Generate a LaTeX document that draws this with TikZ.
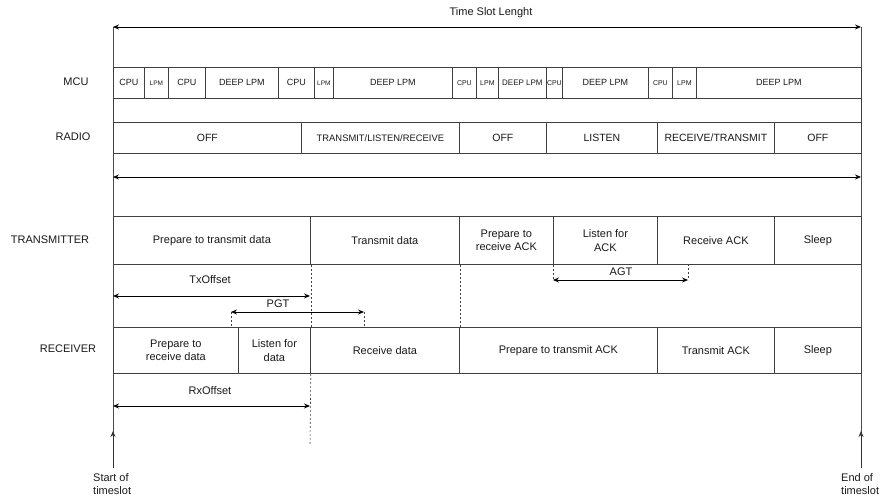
\documentclass[tikz,border=0pt]{standalone}
\usepackage{fontspec}
\setmainfont{Liberation Sans}
\usetikzlibrary{arrows.meta}
\newcommand{\fsz}[2]{\fontsize{#1}{#2}\selectfont}
\newcommand{\mkcell}[7]{\node[#1, anchor=north west, minimum width={#4-#3}, minimum height={#6-#5}] (#2) at (#3,#5) {#7};}
\tikzset{
  cell/.style={draw=black!75, line width=0.8pt, inner sep=0pt, align=center, font=\fsz{11}{13.5}, text=black!90},
  mcub/.style={cell, font=\fsz{9}{11}},
  mcum/.style={cell, font=\fsz{8}{10}},
  mcus/.style={cell, font=\fsz{7}{9}},
  mcut/.style={cell, font=\fsz{6.5}{8}},
  radio/.style={cell, font=\fsz{10.5}{12.5}},
  lbl/.style={font=\fsz{11}{13.5}, inner sep=0pt, text=black!90},
  dimarrow/.style={{Stealth[length=6pt,width=5pt]}-{Stealth[length=6pt,width=5pt]}, line width=0.8pt, black},
  uparrow/.style={-{Stealth[length=6pt,width=5pt]}, line width=0.8pt, draw=black!80},
  rail/.style={draw=black!70, line width=0.8pt},
  guideline/.style={draw=black!75, line width=0.6pt, dash pattern=on 2pt off 2pt}
}
\begin{document}
\begin{tikzpicture}[x=1pt,y=-1pt]
\useasboundingbox (0,0) rectangle (881,500);

% rails
\coordinate (tl) at (113,27);
\coordinate (tr) at (861,27);
\coordinate (bl) at (113,468);
\coordinate (br) at (861,468);
\coordinate (blh) at (113,431);
\coordinate (brh) at (861,431);
\draw[rail] (tl) -- (bl);
\draw[rail] (tr) -- (br);

% top arrow
\draw[dimarrow] (tl) -- (tr);
\node[lbl] (tsl) at (491,13) {Time Slot Lenght};

% MCU row
\mkcell{mcub}{m1}{113}{144}{67}{98}{CPU}
\mkcell{mcut}{m2}{144}{168}{67}{98}{LPM}
\mkcell{mcub}{m3}{168}{205}{67}{98}{CPU}
\mkcell{mcub}{m4}{205}{278}{67}{98}{DEEP LPM}
\mkcell{mcub}{m5}{278}{314}{67}{98}{CPU}
\mkcell{mcut}{m6}{314}{333}{67}{98}{LPM}
\mkcell{mcub}{m7}{333}{452}{67}{98}{DEEP LPM}
\mkcell{mcus}{m8}{452}{476}{67}{98}{CPU}
\mkcell{mcus}{m9}{476}{498}{67}{98}{LPM}
\mkcell{mcum}{m10}{498}{546}{67}{98}{DEEP LPM}
\mkcell{mcus}{m11}{546}{562}{67}{98}{CPU}
\mkcell{mcub}{m12}{562}{648}{67}{98}{DEEP LPM}
\mkcell{mcus}{m13}{648}{672}{67}{98}{CPU}
\mkcell{mcus}{m14}{672}{696}{67}{98}{LPM}
\mkcell{mcub}{m15}{696}{861}{67}{98}{DEEP LPM}

% blank band
\mkcell{cell}{band}{113}{861}{98}{122}{}

% RADIO row
\mkcell{radio}{r1}{113}{301}{122}{153}{OFF}
\mkcell{cell}{r2}{301}{459}{122}{153}{\fsz{9.4}{11}TRANSMIT/LISTEN/RECEIVE}
\mkcell{radio}{r3}{459}{546}{122}{153}{OFF}
\mkcell{radio}{r4}{546}{657}{122}{153}{LISTEN}
\mkcell{radio}{r5}{657}{774}{122}{153}{RECEIVE/TRANSMIT}
\mkcell{radio}{r6}{774}{861}{122}{153}{OFF}

% middle arrow
\coordinate (ml) at (113,177);
\coordinate (mr) at (861,177);
\draw[dimarrow] (ml) -- (mr);

% TRANSMITTER row
\mkcell{cell}{t1}{113}{310}{216}{264}{Prepare to transmit data}
\mkcell{cell}{t2}{310}{459}{216}{264}{Transmit data}
\mkcell{cell}{t3}{459}{553}{216}{264}{Prepare to\\receive ACK}
\mkcell{cell}{t4}{553}{657}{216}{264}{Listen for\\ACK}
\mkcell{cell}{t5}{657}{774}{216}{264}{Receive ACK}
\mkcell{cell}{t6}{774}{861}{216}{264}{Sleep}
\draw[draw=black!75, line width=0.8pt] (113,264) -- (861,264);

% RECEIVER row
\mkcell{cell}{c1}{113}{238}{327}{373}{Prepare to\\receive data}
\mkcell{cell}{c2}{238}{310}{327}{373}{Listen for\\data}
\mkcell{cell}{c3}{310}{459}{327}{373}{Receive data}
\mkcell{cell}{c4}{459}{657}{327}{373}{Prepare to transmit ACK}
\mkcell{cell}{c5}{657}{774}{327}{373}{Transmit ACK}
\mkcell{cell}{c6}{774}{861}{327}{373}{Sleep}

% row labels
\node[lbl] (lmcu) at (76,82) {MCU};
\node[lbl] (lradio) at (73,137) {RADIO};
\node[lbl] (ltx) at (50,240) {TRANSMITTER};
\node[lbl] (lrx) at (68,349) {RECEIVER};

% guide lines
\draw[guideline] (t1.south east) -- (c2.north east);
\draw[guideline] (t2.south east) -- (c3.north east);
\coordinate (rxg) at (310,445);
\draw[guideline] (c2.south east) -- (rxg);
\coordinate (pgl) at (231,312);
\coordinate (pgr) at (364,312);
\coordinate (pglb) at (231,327);
\coordinate (pgrb) at (364,327);
\draw[guideline] (pgl) -- (pglb);
\draw[guideline] (pgr) -- (pgrb);
\coordinate (agl) at (553,280);
\coordinate (agr) at (688,280);
\coordinate (agrt) at (688,264);
\draw[guideline] (t4.south west) -- (agl);
\draw[guideline] (agrt) -- (agr);

% dimension arrows
\coordinate (txl) at (113,296);
\coordinate (txr) at (310,296);
\draw[dimarrow] (txl) -- (txr);
\node[lbl] (txlbl) at (210,280) {TxOffset};
\draw[dimarrow] (pgl) -- (pgr);
\node[lbl] (pgtlbl) at (278,304) {PGT};
\draw[dimarrow] (agl) -- (agr);
\node[lbl] (agtlbl) at (621,272) {AGT};
\coordinate (rxl) at (113,406);
\coordinate (rxr) at (310,406);
\draw[dimarrow] (rxl) -- (rxr);
\node[lbl] (rxlbl) at (210,391) {RxOffset};

% start / end arrows
\draw[uparrow] (bl) -- (blh);
\draw[uparrow] (br) -- (brh);
\node[lbl, align=left, anchor=north west] (start) at (93,473) {Start of\\timeslot};
\node[lbl, align=left, anchor=north west] (end) at (841,473) {End of\\timeslot};
\end{tikzpicture}
\end{document}
